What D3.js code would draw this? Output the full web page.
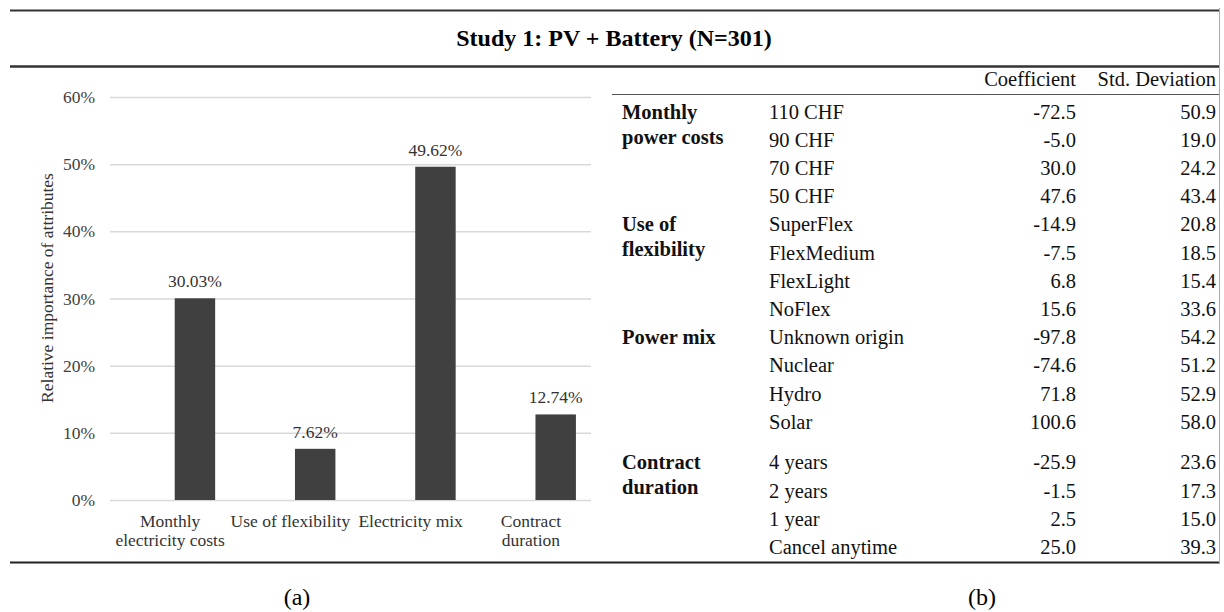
<!DOCTYPE html>
<html lang="en">
<head>
    <meta charset="UTF-8">
    <title>Study 1: PV + Battery</title>
    <script src="https://d3js.org/d3.v7.min.js"></script>
    <style>
        body { margin: 0; background: #fff; }
        svg, svg text { font-family: "Liberation Serif", "Times New Roman", serif; }
    </style>
</head>
<body>
    <svg width="1224" height="612"></svg>
    <script>
        const width = 1224;
        const height = 612;

        // chart (a)
        const categories = ['Monthly electricity costs', 'Use of flexibility', 'Electricity mix', 'Contract duration'];
        const categoryLines = [['Monthly', 'electricity costs'], ['Use of flexibility'], ['Electricity mix'], ['Contract', 'duration']];
        const shares = [0.3003, 0.0762, 0.4962, 0.1274];
        const yTicks = [0, 0.1, 0.2, 0.3, 0.4, 0.5, 0.6];

        // table (b)
        const groups = [['Monthly', 'power costs'], ['Use of', 'flexibility'], ['Power mix'], ['Contract', 'duration']];
        const groupSizes = [4, 4, 4, 4];
        const levels = ['110 CHF', '90 CHF', '70 CHF', '50 CHF',
            'SuperFlex', 'FlexMedium', 'FlexLight', 'NoFlex',
            'Unknown origin', 'Nuclear', 'Hydro', 'Solar',
            '4 years', '2 years', '1 year', 'Cancel anytime'];
        const coefficients = [-72.5, -5.0, 30.0, 47.6, -14.9, -7.5, 6.8, 15.6, -97.8, -74.6, 71.8, 100.6, -25.9, -1.5, 2.5, 25.0];
        const stdDeviations = [50.9, 19.0, 24.2, 43.4, 20.8, 18.5, 15.4, 33.6, 54.2, 51.2, 52.9, 58.0, 23.6, 17.3, 15.0, 39.3];
        const columns = ['Coefficient', 'Std. Deviation'];

        // plain hyphen for negatives, like the original table
        const fmt1 = d3.formatLocale({decimal: '.', thousands: ',', grouping: [3], currency: ['', ''], minus: '-'}).format('.1f');

        const svg = d3.select('svg');

        // frame rules
        svg.append('line').attr('x1', 10).attr('x2', 1219).attr('y1', 10.5).attr('y2', 10.5)
            .attr('stroke', '#333').attr('stroke-width', 2);
        svg.append('line').attr('x1', 10).attr('x2', 1219).attr('y1', 66.5).attr('y2', 66.5)
            .attr('stroke', '#333').attr('stroke-width', 2.5);
        svg.append('line').attr('x1', 10).attr('x2', 1219).attr('y1', 562.5).attr('y2', 562.5)
            .attr('stroke', '#222').attr('stroke-width', 2);
        svg.append('line').attr('x1', 1219.5).attr('x2', 1219.5).attr('y1', 8).attr('y2', 564)
            .attr('stroke', '#aaa').attr('stroke-width', 1);

        svg.append('text')
            .attr('x', 614).attr('y', 46)
            .attr('text-anchor', 'middle')
            .attr('font-size', 24).attr('font-weight', 'bold')
            .text('Study 1: PV + Battery (N=301)');

        // ---- bar chart ----
        const plot = {left: 110, right: 591, top: 97, bottom: 500};

        const x = d3.scaleBand()
            .domain(categories)
            .range([plot.left, plot.right])
            .padding(0);

        // excel style cluster: empty first slot, bar in the second
        const xInner = d3.scaleBand()
            .domain(['blank', 'share'])
            .range([0, x.bandwidth()])
            .paddingInner(0.185)
            .paddingOuter(0.304);

        const y = d3.scaleLinear()
            .domain([0, 0.6])
            .range([plot.bottom, plot.top]);

        const chart = svg.append('g').attr('font-size', 17.5);

        chart.append('g')
            .attr('transform', `translate(${plot.left}, 0)`)
            .call(d3.axisLeft(y)
                .tickValues(yTicks)
                .tickFormat(d3.format('.0%'))
                .tickSize(-(plot.right - plot.left))
                .tickPadding(15))
            .attr('font-family', null)
            .attr('font-size', 17.5)
            .call(g => g.select('.domain').remove())
            .call(g => g.selectAll('.tick line').attr('stroke', '#d9d9d9').attr('stroke-width', 1.5))
            .call(g => g.selectAll('.tick text').attr('fill', '#404040'));

        chart.append('g')
            .attr('fill', '#404040')
            .selectAll('rect').data(shares).enter().append('rect')
            .attr('x', (d, i) => x(categories[i]) + xInner('share'))
            .attr('y', d => y(d))
            .attr('width', xInner.bandwidth())
            .attr('height', d => y(0) - y(d));

        chart.append('g')
            .attr('fill', '#333')
            .attr('text-anchor', 'middle')
            .selectAll('text').data(shares).enter().append('text')
            .attr('x', (d, i) => x(categories[i]) + xInner('share') + xInner.bandwidth() / 2)
            .attr('y', d => y(d) - 11)
            .text(d => d3.format('.2%')(d));

        const xAxis = chart.append('g')
            .attr('transform', `translate(0, ${plot.bottom})`)
            .call(d3.axisBottom(x).tickSize(0).tickFormat(''))
            .attr('font-family', null)
            .attr('font-size', 17.5)
            .call(g => g.select('.domain').remove());

        xAxis.selectAll('.tick').each(function(d, i) {
            const t = d3.select(this).append('text')
                .attr('fill', '#333')
                .attr('text-anchor', 'middle');
            categoryLines[i].forEach((line, j) => {
                t.append('tspan').attr('x', 0).attr('y', 27 + j * 18.5).text(line);
            });
        });

        chart.append('text')
            .attr('transform', 'translate(47, 288) rotate(-90)')
            .attr('text-anchor', 'middle')
            .attr('dy', '0.35em')
            .attr('fill', '#333')
            .text('Relative importance of attributes');

        // ---- table ----
        const col = {group: 622, level: 769, coef: 1076, sd: 1216};
        const rowStep = 28.2;
        const groupGap = 12.4;

        const rowGroup = [];
        groupSizes.forEach((n, gi) => { for (let k = 0; k < n; k++) rowGroup.push(gi); });

        const rowY = d3.scaleLinear()
            .domain([0, levels.length - 1])
            .range([111.5, 111.5 + rowStep * (levels.length - 1)]);
        const yRow = i => rowY(i) + (rowGroup[i] === 3 ? groupGap : 0);

        const table = svg.append('g').attr('font-size', 20.5).attr('fill', '#111');

        table.append('line').attr('x1', 612).attr('x2', 1219).attr('y1', 94.5).attr('y2', 94.5)
            .attr('stroke', '#555').attr('stroke-width', 1.2);

        table.selectAll('.head').data(columns).enter().append('text')
            .attr('class', 'head')
            .attr('x', (d, i) => i === 0 ? col.coef : col.sd)
            .attr('y', 79)
            .attr('dy', '0.35em')
            .attr('text-anchor', 'end')
            .text(d => d);

        let start = 0;
        groups.forEach((lines, gi) => {
            const t = table.append('text')
                .attr('font-weight', 'bold')
                .attr('x', col.group);
            lines.forEach((line, j) => {
                t.append('tspan')
                    .attr('x', col.group)
                    .attr('y', yRow(start) + j * 25)
                    .attr('dy', '0.35em')
                    .text(line);
            });
            start += groupSizes[gi];
        });

        const rows = table.selectAll('.row').data(levels).enter().append('g')
            .attr('class', 'row')
            .attr('transform', (d, i) => `translate(0, ${yRow(i)})`);

        rows.append('text').attr('x', col.level).attr('dy', '0.35em').text(d => d);
        rows.append('text').attr('x', col.coef).attr('dy', '0.35em').attr('text-anchor', 'end')
            .text((d, i) => fmt1(coefficients[i]));
        rows.append('text').attr('x', col.sd).attr('dy', '0.35em').attr('text-anchor', 'end')
            .text((d, i) => fmt1(stdDeviations[i]));

        // captions
        svg.append('text').attr('x', 297).attr('y', 597).attr('dy', '0.35em')
            .attr('text-anchor', 'middle').attr('font-size', 24).text('(a)');
        svg.append('text').attr('x', 982).attr('y', 597).attr('dy', '0.35em')
            .attr('text-anchor', 'middle').attr('font-size', 24).text('(b)');
    </script>
</body>
</html>
